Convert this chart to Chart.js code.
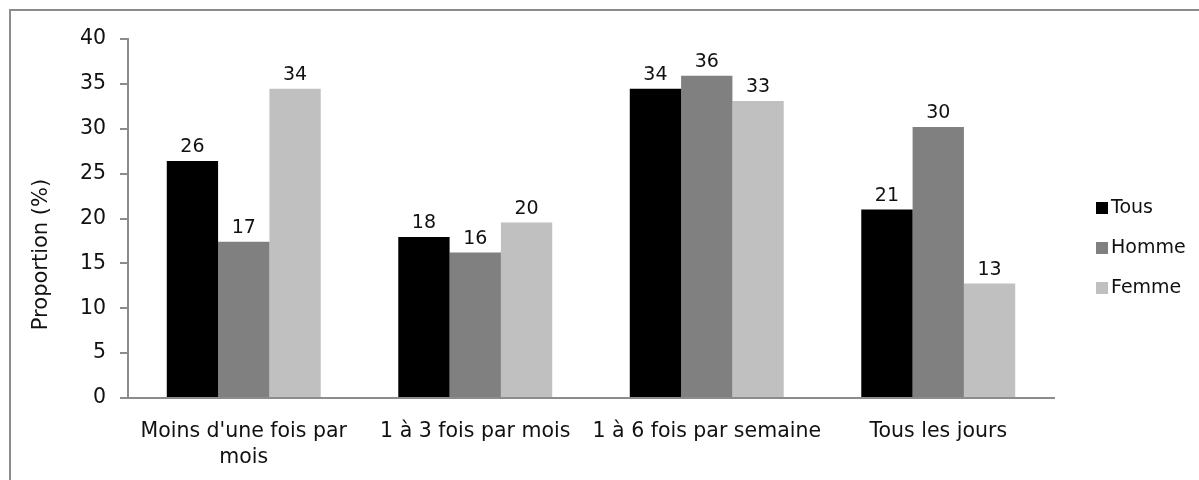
<!DOCTYPE html>
<html lang="fr">
<head>
  <meta charset="UTF-8">
  <title>Proportion (%)</title>
  <script src="https://cdn.jsdelivr.net/npm/chart.js"></script>
  <style>
    body { margin: 0; background: #fff; }
    #cadre {
      position: absolute; left: 9px; top: 9px;
      width: 1188px; height: 469px;
      border-top: 2px solid #8c8c8c; border-left: 2px solid #8c8c8c;
    }
  </style>
</head>
<body>
  <div id="cadre"><canvas id="graph" width="1188" height="469"></canvas></div>

  <script>
    // Données
    const categories = [['Moins d\'une fois par', 'mois'], '1 à 3 fois par mois', '1 à 6 fois par semaine', 'Tous les jours'];
    const tous = [26.4, 17.95, 34.45, 21.0];
    const homme = [17.4, 16.2, 35.9, 30.2];
    const femme = [34.45, 19.55, 33.1, 12.75];
    const couleurs = ['#000000', '#808080', '#c0c0c0'];
    const police = 'DejaVu Sans';

    // Étiquettes de valeurs au-dessus des barres
    const etiquettes = {
      id: 'etiquettes',
      afterDatasetsDraw(chart) {
        const ctx = chart.ctx;
        ctx.save();
        ctx.font = '19px "' + police + '"';
        ctx.fillStyle = '#111';
        ctx.textAlign = 'center';
        ctx.textBaseline = 'alphabetic';
        chart.data.datasets.forEach((ds, i) => {
          chart.getDatasetMeta(i).data.forEach((bar, j) => {
            ctx.fillText(Math.round(ds.data[j]), bar.x, bar.y - 9);
          });
        });
        ctx.restore();
      }
    };

    // Titre de l'axe Y et légende à droite
    const decor = {
      id: 'decor',
      afterDraw(chart) {
        const ctx = chart.ctx;
        const area = chart.chartArea;
        ctx.save();
        ctx.fillStyle = '#111';
        ctx.font = '21px "' + police + '"';
        ctx.translate(31, (area.top + area.bottom) / 2 + 36);
        ctx.rotate(-Math.PI / 2);
        ctx.textAlign = 'center';
        ctx.textBaseline = 'middle';
        ctx.fillText('Proportion (%)', 0, 0);
        ctx.restore();

        ctx.save();
        ctx.font = '19px "' + police + '"';
        ctx.textBaseline = 'middle';
        chart.data.datasets.forEach((ds, i) => {
          const y = area.top + 169 + i * 40;
          const x = area.right + 42;
          ctx.fillStyle = ds.backgroundColor;
          ctx.fillRect(x, y - 6, 12, 12);
          ctx.fillStyle = '#111';
          ctx.fillText(ds.label, x + 15, y);
        });
        ctx.restore();
      }
    };

    const ctx = document.getElementById('graph').getContext('2d');
    const graph = new Chart(ctx, {
      type: 'bar',
      data: {
        labels: categories,
        datasets: [
          { label: 'Tous', data: tous, backgroundColor: couleurs[0] },
          { label: 'Homme', data: homme, backgroundColor: couleurs[1] },
          { label: 'Femme', data: femme, backgroundColor: couleurs[2] }
        ]
      },
      options: {
        responsive: false,
        animation: false,
        layout: { padding: { top: 28, right: 145, left: 0, bottom: 0 } },
        datasets: { bar: { categoryPercentage: 0.665, barPercentage: 1 } },
        plugins: {
          legend: { display: false },
          tooltip: { enabled: false }
        },
        scales: {
          x: {
            grid: { display: false },
            border: { display: true, color: '#8c8c8c', width: 2 },
            ticks: {
              color: '#111',
              padding: 12,
              maxRotation: 0,
              autoSkip: false,
              font: { family: police, size: 20.5, lineHeight: 1.3 }
            },
            afterFit(scale) { scale.height = 82; }
          },
          y: {
            min: 0,
            max: 40,
            grid: { drawOnChartArea: false, drawTicks: true, tickLength: 8, color: '#8c8c8c', lineWidth: 2 },
            border: { display: true, color: '#8c8c8c', width: 2 },
            ticks: {
              stepSize: 5,
              color: '#111',
              padding: 14,
              font: { family: police, size: 20.5 }
            },
            afterFit(scale) { scale.width = 117; }
          }
        }
      },
      plugins: [etiquettes, decor]
    });
  </script>
</body>
</html>
